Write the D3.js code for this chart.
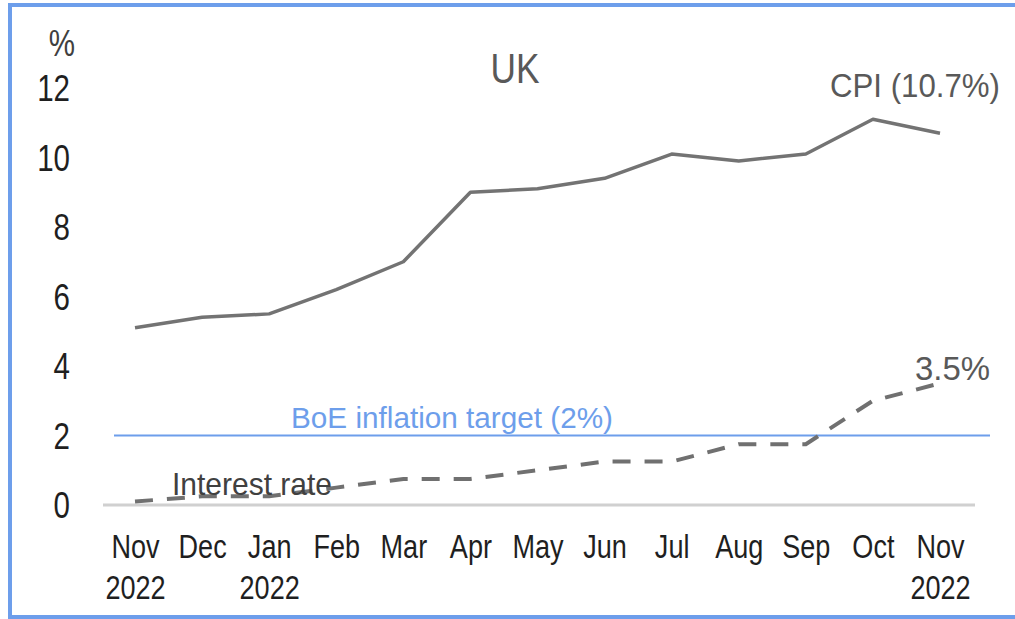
<!DOCTYPE html>
<html>
<head>
<meta charset="utf-8">
<script src="https://cdn.jsdelivr.net/npm/d3@7"></script>
<style>
  body { margin: 0; background: #fff; overflow: hidden; }
  text { font-family: "Liberation Sans", Arial, sans-serif; }
</style>
</head>
<body>
<div id="chart"></div>
<script>
// data
var months = ["Nov", "Dec", "Jan", "Feb", "Mar", "Apr", "May", "Jun", "Jul", "Aug", "Sep", "Oct", "Nov"];
var years = ["2022", "", "2022", "", "", "", "", "", "", "", "", "", "2022"];
var cpi = [5.1, 5.4, 5.5, 6.2, 7.0, 9.0, 9.1, 9.4, 10.1, 9.9, 10.1, 11.1, 10.7];
var rate = [0.1, 0.25, 0.25, 0.5, 0.75, 0.75, 1.0, 1.25, 1.25, 1.75, 1.75, 3.0, 3.5];
var target = 2;
var yTicks = [0, 2, 4, 6, 8, 10, 12];

var width = 1015, height = 619;

// no narrow font installed, so squeeze the regular one
function narrow(sel, f) {
    sel.each(function() {
        var len = this.getComputedTextLength();
        if (len > 0) {
            d3.select(this)
                .attr("textLength", len * (f || 0.82))
                .attr("lengthAdjust", "spacingAndGlyphs");
        }
    });
}

var svg = d3.select("#chart").append("svg")
    .attr("width", width)
    .attr("height", height);

// frame (right side runs off the picture)
svg.append("rect")
    .attr("x", 10).attr("y", 5)
    .attr("width", 1030).attr("height", 612)
    .style("fill", "none")
    .style("stroke", "#6d9eeb")
    .style("stroke-width", 4);

var x = d3.scalePoint()
    .domain(d3.range(months.length))
    .range([135, 940]);

var y = d3.scaleLinear()
    .domain([0, 12])
    .range([505, 88]);

// y axis labels only
var yAxis = d3.axisLeft(y)
    .tickValues(yTicks)
    .tickSize(0)
    .tickPadding(0);

var gy = svg.append("g")
    .attr("transform", "translate(70,0)")
    .call(yAxis);
gy.select(".domain").remove();
gy.selectAll("text")
    .attr("x", 0)
    .attr("dy", "0.36em")
    .style("font-size", "36px")
    .style("fill", "#1f1f1f")
    .call(narrow);

svg.append("text")
    .attr("x", 62).attr("y", 56)
    .attr("text-anchor", "middle")
    .style("font-size", "36px")
    .style("fill", "#404040")
    .text("%")
    .call(narrow);

// x axis: grey baseline and two-line month labels
svg.append("line")
    .attr("x1", 103).attr("x2", 975)
    .attr("y1", y(0)).attr("y2", y(0))
    .style("stroke", "#d0d0d0")
    .style("stroke-width", 3);

var xAxis = d3.axisBottom(x)
    .tickSize(0)
    .tickFormat(function(i) { return months[i]; });

var gx = svg.append("g")
    .attr("transform", "translate(0,532)")
    .call(xAxis);
gx.select(".domain").remove();
gx.selectAll("text")
    .attr("y", 0)
    .attr("dy", "0.8em")
    .style("font-size", "33px")
    .style("fill", "#1f1f1f");
gx.selectAll(".tick")
    .append("text")
    .attr("class", "year")
    .attr("y", 599 - 532)
    .attr("text-anchor", "middle")
    .style("font-size", "33px")
    .style("fill", "#1f1f1f")
    .text(function(i) { return years[i]; });
gx.selectAll("text").call(narrow);

// BoE target line
svg.append("line")
    .attr("x1", 114).attr("x2", 990)
    .attr("y1", y(target)).attr("y2", y(target))
    .style("stroke", "#6d9eeb")
    .style("stroke-width", 2);

svg.append("text")
    .attr("x", 291).attr("y", 428)
    .attr("textLength", 322)
    .attr("lengthAdjust", "spacingAndGlyphs")
    .style("font-size", "29px")
    .style("fill", "#6d9eeb")
    .text("BoE inflation target (2%)");

var line = d3.line()
    .x(function(d, i) { return x(i); })
    .y(function(d) { return y(d); });

// CPI
svg.append("path")
    .datum(cpi)
    .attr("d", line)
    .style("fill", "none")
    .style("stroke", "#737373")
    .style("stroke-width", 3.5)
    .style("stroke-linejoin", "round");

// interest rate, dashed
svg.append("path")
    .datum(rate)
    .attr("d", line)
    .style("fill", "none")
    .style("stroke", "#707070")
    .style("stroke-width", 4)
    .style("stroke-dasharray", "18,14");

// annotations
svg.append("text")
    .attr("x", 515).attr("y", 83)
    .attr("text-anchor", "middle")
    .style("font-size", "43px")
    .style("fill", "#595959")
    .text("UK")
    .call(narrow);

svg.append("text")
    .attr("x", 830).attr("y", 97)
    .attr("textLength", 170)
    .attr("lengthAdjust", "spacingAndGlyphs")
    .style("font-size", "34px")
    .style("fill", "#595959")
    .text("CPI (10.7%)");

svg.append("text")
    .attr("x", 915).attr("y", 380)
    .attr("textLength", 75)
    .attr("lengthAdjust", "spacingAndGlyphs")
    .style("font-size", "34px")
    .style("fill", "#595959")
    .text("3.5%");

svg.append("text")
    .attr("x", 172).attr("y", 495)
    .attr("textLength", 160)
    .attr("lengthAdjust", "spacingAndGlyphs")
    .style("font-size", "32px")
    .style("fill", "#404040")
    .text("Interest rate");
</script>
</body>
</html>
